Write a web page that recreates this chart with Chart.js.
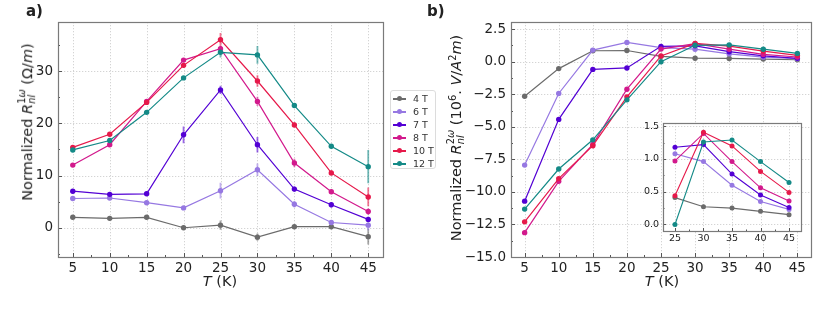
<!DOCTYPE html>
<html><head><meta charset="utf-8">
<script src="https://cdn.jsdelivr.net/npm/chart.js@4.4.0/dist/chart.umd.min.js"></script>
<style>
html,body{margin:0;padding:0;background:#fff;}
#wrap{position:relative;width:822px;height:316px;overflow:hidden;font-family:"DejaVu Sans",sans-serif;color:#222;}
canvas{position:absolute;left:0;top:0;}
.lbl{position:absolute;white-space:nowrap;font-size:14.5px;line-height:1;}
.rot{transform:translate(-50%,-50%) rotate(-90deg);}
.ctr{transform:translate(-50%,-50%);}
.ss{display:inline-block;vertical-align:-0.28em;font-size:68%;line-height:1;}
.ss span{display:block;}
sup{font-size:68%;vertical-align:0.5em;line-height:0;}
.pl{position:absolute;font-weight:bold;font-size:15px;line-height:1;}
#legend{position:absolute;left:390px;top:90px;width:46px;height:79px;border:1px solid #dcdcdc;border-radius:3px;background:rgba(255,255,255,0.9);box-sizing:border-box;z-index:5;}
.row{position:absolute;left:0;height:13px;width:46px;}
.row .ln{position:absolute;left:2px;top:6px;width:13px;height:1.6px;}
.row .dt{position:absolute;left:6px;top:4.3px;width:5px;height:5px;border-radius:50%;}
.row .tx{position:absolute;left:22px;top:1px;font-size:9.5px;line-height:11px;color:#333;}
</style></head>
<body>
<div id="wrap">
<canvas id="cA" width="822" height="316"></canvas>
<canvas id="cB" width="822" height="316"></canvas>
<canvas id="cI" width="822" height="316"></canvas>
<div class="pl" style="left:26px;top:4px;">a)</div>
<div class="pl" style="left:427px;top:4px;">b)</div>
<div class="lbl rot" style="left:27px;top:122px;">Normalized <i>R</i><span class="ss"><span>1<i>ω</i></span><span><i>nl</i></span></span> (Ω/<i>m</i>)</div>
<div class="lbl rot" style="left:456px;top:138px;">Normalized <i>R</i><span class="ss"><span>2<i>ω</i></span><span><i>nl</i></span></span> (10<sup>6</sup>. <i>V</i>/<i>A</i><sup>2</sup><i>m</i>)</div>
<div class="lbl ctr" style="left:220px;top:281px;"><i>T</i> (K)</div>
<div class="lbl ctr" style="left:662px;top:281px;"><i>T</i> (K)</div>
<div id="legend"></div>
</div>
<script>
// ---- data ----
const temps = [5, 10, 15, 20, 25, 30, 35, 40, 45];
const insetTemps = [25, 30, 35, 40, 45];
const fields = ['4 T', '6 T', '7 T', '8 T', '10 T', '12 T'];
const colors = ['#6b6b6b', '#9678e2', '#5300d4', '#d2198c', '#e6194a', '#148a87'];

// panel a: R_nl^{1w}
const r1_4T  = [2.0, 1.8, 2.0, 0.0, 0.5, -1.8, 0.2, 0.2, -1.7];
const r1_6T  = [5.6, 5.7, 4.8, 3.8, 7.1, 11.1, 4.5, 1.0, 0.5];
const r1_7T  = [7.0, 6.4, 6.5, 17.8, 26.4, 15.9, 7.4, 4.4, 1.6];
const r1_8T  = [12.0, 15.9, 24.2, 32.1, 34.3, 24.2, 12.4, 6.9, 3.1];
const r1_10T = [15.4, 17.9, 24.0, 31.1, 36.0, 28.1, 19.7, 10.5, 5.9];
const r1_12T = [14.9, 16.7, 22.1, 28.7, 33.6, 33.1, 23.4, 15.6, 11.7];
// panel a error bars
const e1_4T  = [0.3, 0.3, 0.3, 0.4, 0.9, 0.7, 0.4, 0.4, 1.5];
const e1_6T  = [0.3, 0.3, 0.3, 0.3, 1.5, 1.2, 0.6, 0.5, 1.0];
const e1_7T  = [0.3, 0.3, 0.3, 1.6, 0.8, 1.5, 0.5, 0.5, 0.5];
const e1_8T  = [0.3, 0.3, 0.3, 0.3, 0.5, 0.9, 0.8, 0.4, 0.6];
const e1_10T = [0.3, 0.3, 0.3, 0.4, 1.3, 1.1, 0.5, 0.5, 1.8];
const e1_12T = [0.3, 0.3, 0.3, 0.3, 1.0, 1.7, 0.4, 0.4, 3.2];

// panel b: R_nl^{2w}
const r2_4T  = [-2.65, -0.53, 0.84, 0.86, 0.41, 0.27, 0.25, 0.20, 0.15];
const r2_6T  = [-7.94, -2.44, 0.89, 1.48, 1.08, 0.96, 0.60, 0.35, 0.23];
const r2_7T  = [-10.71, -4.43, -0.59, -0.48, 1.18, 1.22, 0.77, 0.45, 0.26];
const r2_8T  = [-13.13, -9.19, -6.35, -2.11, 0.97, 1.39, 0.96, 0.56, 0.36];
const r2_10T = [-12.30, -8.98, -6.45, -2.70, 0.44, 1.41, 1.20, 0.81, 0.49];
const r2_12T = [-11.32, -8.24, -6.00, -2.93, 0.00, 1.26, 1.29, 0.96, 0.64];

// tick labels
const xTicks = [5, 10, 15, 20, 25, 30, 35, 40, 45];
const yTicksA = [0, 10, 20, 30];
const yTicksB = [-15, -12.5, -10, -7.5, -5, -2.5, 0, 2.5];
const xTicksI = [25, 30, 35, 40, 45];
const yTicksI = [0, 0.5, 1.0, 1.5];

const r1 = [r1_4T, r1_6T, r1_7T, r1_8T, r1_10T, r1_12T];
const e1 = [e1_4T, e1_6T, e1_7T, e1_8T, e1_10T, e1_12T];
const r2 = [r2_4T, r2_6T, r2_7T, r2_8T, r2_10T, r2_12T];

// ---- helpers ----
function fmt(v, d) { return Number(v).toFixed(d).replace('-', '\u2212'); }
function hexA(h, a) {
  const n = parseInt(h.slice(1), 16);
  return `rgba(${n >> 16},${(n >> 8) & 255},${n & 255},${a})`;
}

const framePlugin = {
  id: 'frame',
  beforeDatasetsDraw(chart, args, o) {
    const { ctx, chartArea: a, scales: { x, y } } = chart;
    ctx.save();
    if (o.bg) { ctx.fillStyle = '#fff'; ctx.fillRect(a.left, a.top, a.right - a.left, a.bottom - a.top); }
    ctx.strokeStyle = '#cfcfcf'; ctx.lineWidth = 0.9; ctx.setLineDash([1.3, 1.7]);
    ctx.beginPath();
    x.ticks.forEach(t => { const p = Math.round(x.getPixelForValue(t.value)) + 0.5; ctx.moveTo(p, a.top); ctx.lineTo(p, a.bottom); });
    y.ticks.forEach(t => { const p = Math.round(y.getPixelForValue(t.value)) + 0.5; ctx.moveTo(a.left, p); ctx.lineTo(a.right, p); });
    ctx.stroke();
    ctx.setLineDash([]);
    // error bars
    chart.data.datasets.forEach((ds, i) => {
      if (!ds.err) return;
      const meta = chart.getDatasetMeta(i);
      ctx.strokeStyle = hexA(ds.borderColor, 0.6); ctx.lineWidth = 1.8;
      ctx.beginPath();
      meta.data.forEach((pt, j) => {
        const v = ds.data[j].y, e = ds.err[j];
        ctx.moveTo(pt.x, y.getPixelForValue(v - e)); ctx.lineTo(pt.x, y.getPixelForValue(v + e));
      });
      ctx.stroke();
    });
    ctx.restore();
  },
  afterDraw(chart, args, o) {
    const { ctx, chartArea: a, scales: { x, y } } = chart;
    ctx.save();
    ctx.strokeStyle = '#555'; ctx.lineWidth = 1;
    ctx.beginPath();
    const tick = (axis, v, len) => {
      if (axis === 'x') { const p = Math.round(x.getPixelForValue(v)) + 0.5; ctx.moveTo(p, a.bottom); ctx.lineTo(p, a.bottom - len); }
      else { const p = Math.round(y.getPixelForValue(v)) + 0.5; ctx.moveTo(a.left, p); ctx.lineTo(a.left + len, p); }
    };
    x.ticks.forEach(t => tick('x', t.value, o.major));
    y.ticks.forEach(t => tick('y', t.value, o.major));
    for (let v = Math.ceil(x.min / o.xMinor) * o.xMinor; v <= x.max; v += o.xMinor) tick('x', v, o.minor);
    for (let v = Math.ceil(y.min / o.yMinor) * o.yMinor; v <= y.max; v += o.yMinor) tick('y', v, o.minor);
    ctx.stroke();
    ctx.strokeStyle = '#7a7a7a'; ctx.lineWidth = 1.2;
    ctx.strokeRect(Math.round(a.left) + 0.5, Math.round(a.top) + 0.5, Math.round(a.right - a.left), Math.round(a.bottom - a.top));
    ctx.restore();
  }
};

function makeChart(id, xs, series, errs, c) {
  const datasets = series.map((vals, i) => ({
    label: fields[i],
    data: xs.map((t, j) => ({ x: t, y: vals[j] })),
    err: errs ? errs[i] : null,
    borderColor: colors[i], backgroundColor: colors[i],
    pointBackgroundColor: colors[i], pointBorderWidth: 0,
    pointRadius: c.pr, borderWidth: c.bw, tension: 0,
    order: fields.length - i
  }));
  const font = { family: 'DejaVu Sans', size: c.fs };
  return new Chart(document.getElementById(id), {
    type: 'line',
    data: { datasets },
    plugins: [framePlugin],
    options: {
      responsive: false, animation: false, devicePixelRatio: 1,
      layout: { padding: c.pad },
      plugins: { legend: { display: false }, tooltip: { enabled: false },
        frame: { bg: c.bg, major: c.major, minor: c.minor, xMinor: c.xMinor, yMinor: c.yMinor } },
      scales: {
        x: { type: 'linear', min: c.xmin, max: c.xmax,
          afterBuildTicks: s => { s.ticks = c.xt.map(v => ({ value: v })); },
          afterFit: s => { s.height = c.xh; },
          grid: { display: false, drawTicks: false }, border: { display: false },
          ticks: { font, color: '#222', padding: c.xpad, autoSkip: false, maxRotation: 0, callback: v => fmt(v, 0) } },
        y: { type: 'linear', min: c.ymin, max: c.ymax,
          afterBuildTicks: s => { s.ticks = c.yt.map(v => ({ value: v })); },
          afterFit: s => { s.width = c.yw; },
          grid: { display: false, drawTicks: false }, border: { display: false },
          ticks: { font, color: '#222', padding: c.ypad, autoSkip: false, callback: v => fmt(v, c.yd) } }
      }
    }
  });
}

makeChart('cA', temps, r1, e1, {
  pad: { top: 22, right: 439, left: 0, bottom: 0 }, xh: 59, yw: 58,
  xmin: 3, xmax: 47, ymin: -5.6, ymax: 39.4, xt: xTicks, yt: yTicksA, yd: 0,
  fs: 13.5, xpad: 3, ypad: 5, pr: 2.7, bw: 1.2, major: 4, minor: 2, xMinor: 2.5, yMinor: 5, bg: false
});
makeChart('cB', temps, r2, null, {
  pad: { top: 22, right: 11, left: 0, bottom: 0 }, xh: 59, yw: 511,
  xmin: 3, xmax: 47, ymin: -15, ymax: 3.05, xt: xTicks, yt: yTicksB, yd: 1,
  fs: 13.5, xpad: 3, ypad: 5, pr: 2.7, bw: 1.2, major: 4, minor: 2, xMinor: 2.5, yMinor: 1.25, bg: false
});
makeChart('cI', insetTemps, r2.map(s => s.slice(4)), null, {
  pad: { top: 123, right: 21, left: 0, bottom: 0 }, xh: 85, yw: 663,
  xmin: 22.9, xmax: 47.1, ymin: -0.1, ymax: 1.55, xt: xTicksI, yt: yTicksI, yd: 1,
  fs: 9.5, xpad: 2, ypad: 4, pr: 2.5, bw: 1.1, major: 3, minor: 1.5, xMinor: 2.5, yMinor: 0.25, bg: true
});

// legend (HTML)
const lg = document.getElementById('legend');
fields.forEach((f, i) => {
  const r = document.createElement('div');
  r.className = 'row'; r.style.top = (1 + i * 13) + 'px';
  r.innerHTML = `<div class="ln" style="background:${colors[i]}"></div><div class="dt" style="background:${colors[i]}"></div><div class="tx">${f}</div>`;
  lg.appendChild(r);
});
</script>
</body></html>
